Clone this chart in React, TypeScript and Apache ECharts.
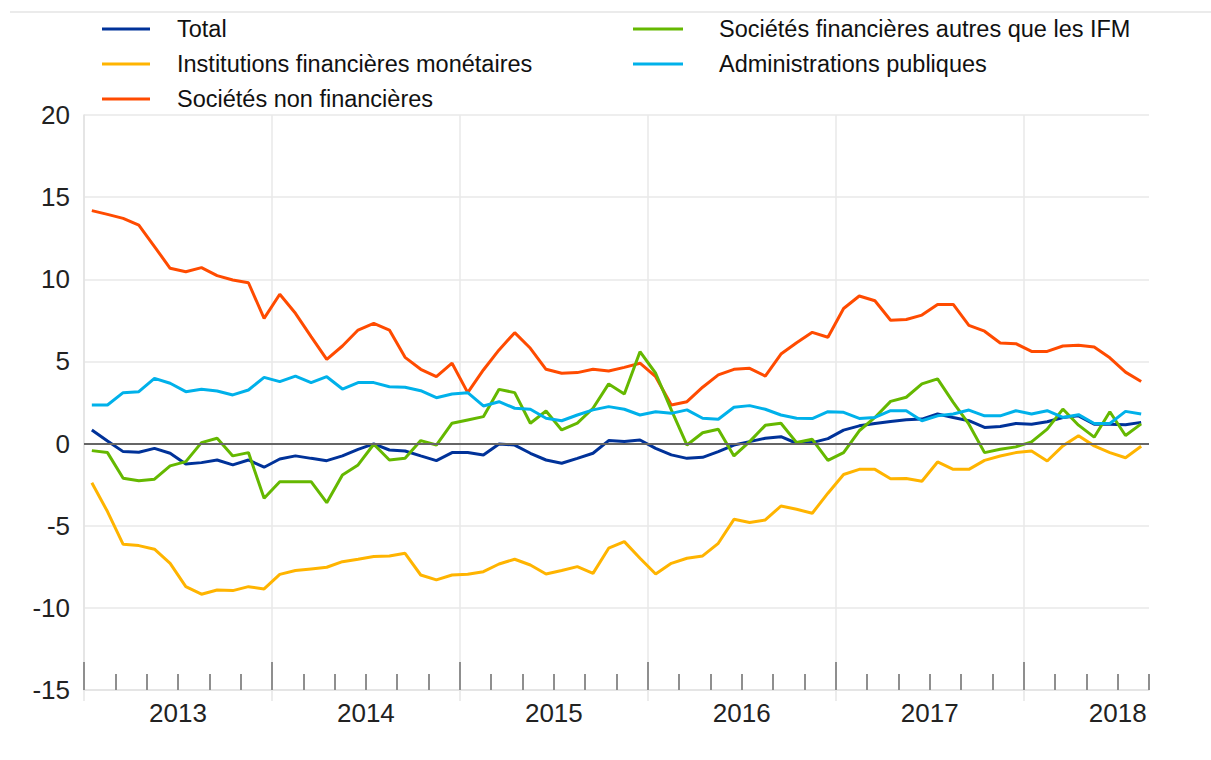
import React, { useEffect, useRef } from 'react';
import * as echarts from 'echarts';

// Monthly data, Jan 2013 – Aug 2018 (annual growth rates, %)
const years = ['2013', '2014', '2015', '2016', '2017', '2018'];

const nameTotal = 'Total';
const nameIfm = 'Institutions financières monétaires';
const nameSnf = 'Sociétés non financières';
const nameSfai = 'Sociétés financières autres que les IFM';
const nameAp = 'Administrations publiques';

const total = [
  0.83, 0.16, -0.49, -0.53, -0.29, -0.59, -1.24, -1.16, -1.0, -1.3, -1.0, -1.44,
  -0.94, -0.75, -0.9, -1.04, -0.75, -0.35, -0.02, -0.39, -0.45, -0.75, -1.04, -0.55,
  -0.55, -0.69, -0.02, -0.09, -0.59, -1.0, -1.2, -0.9, -0.59, 0.18, 0.12, 0.22,
  -0.29, -0.69, -0.9, -0.84, -0.49, -0.09, 0.12, 0.32, 0.42, 0.02, 0.06, 0.3,
  0.82, 1.08, 1.22, 1.35, 1.45, 1.49, 1.8, 1.59, 1.39, 0.98, 1.04, 1.22,
  1.18, 1.33, 1.59, 1.69, 1.18, 1.18, 1.14, 1.29,
];

const ifm = [
  -2.38, -4.14, -6.13, -6.21, -6.43, -7.29, -8.71, -9.17, -8.91, -8.95, -8.71, -8.85,
  -7.96, -7.73, -7.63, -7.53, -7.19, -7.04, -6.88, -6.84, -6.68, -8.0, -8.3, -8.0,
  -7.95, -7.8, -7.33, -7.04, -7.39, -7.94, -7.73, -7.49, -7.9, -6.37, -5.97, -6.98,
  -7.94, -7.29, -6.98, -6.84, -6.07, -4.61, -4.81, -4.65, -3.8, -4.0, -4.24, -3.02,
  -1.88, -1.57, -1.57, -2.14, -2.12, -2.29, -1.12, -1.57, -1.57, -1.02, -0.76, -0.55,
  -0.45, -1.06, -0.14, 0.47, -0.14, -0.55, -0.86, -0.16,
];

const snf = [
  14.18, 13.95, 13.71, 13.3, 11.99, 10.67, 10.46, 10.71, 10.22, 9.96, 9.79, 7.62,
  9.09, 7.93, 6.51, 5.13, 5.94, 6.91, 7.32, 6.91, 5.25, 4.52, 4.07, 4.89,
  3.1, 4.48, 5.7, 6.75, 5.8, 4.52, 4.28, 4.32, 4.52, 4.42, 4.64, 4.89,
  4.07, 2.35, 2.55, 3.43, 4.18, 4.52, 4.58, 4.11, 5.45, 6.14, 6.77, 6.47,
  8.22, 8.98, 8.69, 7.51, 7.55, 7.82, 8.47, 8.47, 7.2, 6.84, 6.12, 6.08,
  5.61, 5.61, 5.94, 5.98, 5.88, 5.22, 4.35, 3.78,
];

const sfai = [
  -0.43, -0.55, -2.11, -2.26, -2.17, -1.36, -1.1, 0.06, 0.32, -0.75, -0.55, -3.33,
  -2.32, -2.32, -2.32, -3.6, -1.91, -1.3, -0.04, -1.0, -0.9, 0.18, -0.09, 1.24,
  1.44, 1.64, 3.3, 3.1, 1.24, 1.98, 0.83, 1.24, 2.15, 3.63, 3.02, 5.59,
  4.28, 2.05, -0.09, 0.66, 0.87, -0.75, 0.12, 1.11, 1.24, 0.06, 0.26, -1.02,
  -0.55, 0.78, 1.59, 2.57, 2.82, 3.63, 3.94, 2.51, 1.18, -0.55, -0.35, -0.2,
  0.1, 0.88, 2.1, 1.12, 0.39, 1.94, 0.49, 1.2,
];

const ap = [
  2.35, 2.35, 3.1, 3.16, 3.97, 3.67, 3.16, 3.3, 3.2, 2.96, 3.26, 4.03,
  3.77, 4.11, 3.71, 4.07, 3.32, 3.71, 3.71, 3.46, 3.43, 3.22, 2.79, 3.02,
  3.1, 2.29, 2.55, 2.15, 2.09, 1.54, 1.39, 1.74, 2.05, 2.25, 2.09, 1.74,
  1.94, 1.84, 2.05, 1.54, 1.48, 2.21, 2.31, 2.09, 1.74, 1.54, 1.52, 1.94,
  1.9, 1.53, 1.59, 2.0, 2.0, 1.39, 1.69, 1.8, 2.04, 1.69, 1.69, 2.0,
  1.8, 2.0, 1.59, 1.76, 1.22, 1.22, 1.96, 1.8,
];

const yMin = -15;
const yMax = 20;
const yStep = 5;

const colors = {
  total: '#003299',
  ifm: '#ffb400',
  snf: '#ff4b00',
  sfai: '#65b800',
  ap: '#00b1ea',
};

const FONT = '"Liberation Sans", Arial, Helvetica, sans-serif';

export default function App() {
  const ref = useRef<HTMLDivElement>(null);

  useEffect(() => {
    document.body.style.margin = '0';
    if (!ref.current) return;
    const chart = echarts.init(ref.current, null, { renderer: 'svg' });

    const nMonths = total.length;
    const majorTicks: number[] = [];
    for (let k = 0; k < years.length; k++) {
      if (k * 12 < nMonths) majorTicks.push(k * 12);
    }
    const minorTicks: number[] = [];
    for (let m = 0; m <= nMonths; m += 2) minorTicks.push(m);
    const labelPos = years.map((_, k) => k * 12 + 6);

    const toPairs = (arr: number[]) => arr.map((v, i) => [i + 0.5, v]);

    const mkSeries = (name: string, data: number[], color: string, extra: any = {}) => ({
      name,
      type: 'line',
      data: toPairs(data),
      showSymbol: false,
      symbol: 'none',
      lineStyle: { color, width: 3 },
      itemStyle: { color },
      xAxisIndex: 0,
      yAxisIndex: 0,
      silent: true,
      ...extra,
    });

    const legendText = {
      fontSize: 23.5,
      color: '#111',
      fontFamily: FONT,
      lineHeight: 22,
    };

    const option: any = {
      animation: false,
      backgroundColor: '#ffffff',
      graphic: [
        {
          type: 'line',
          shape: { x1: 10, y1: 12, x2: 1211, y2: 12 },
          style: { stroke: '#e4e4e4', lineWidth: 1.5 },
          silent: true,
        },
      ],
      legend: [
        {
          data: [nameTotal, nameIfm, nameSnf],
          orient: 'vertical',
          left: 102,
          top: 17,
          padding: 0,
          icon: 'rect',
          itemWidth: 48,
          itemHeight: 3,
          itemGap: 11,
          selectedMode: false,
          textStyle: { ...legendText, padding: [0, 0, 0, 22] },
        },
        {
          data: [nameSfai, nameAp],
          orient: 'vertical',
          left: 633,
          top: 17,
          padding: 0,
          icon: 'rect',
          itemWidth: 50,
          itemHeight: 3,
          itemGap: 11,
          selectedMode: false,
          textStyle: { ...legendText, padding: [0, 0, 0, 31] },
        },
      ],
      grid: { left: 84, right: 62, top: 115, bottom: 70, containLabel: false },
      xAxis: [
        {
          type: 'value',
          min: 0,
          max: nMonths,
          position: 'bottom',
          offset: 0,
          axisLine: { show: true, onZero: false, lineStyle: { color: '#e2e2e2', width: 1.5 } },
          axisTick: {
            show: true,
            inside: true,
            length: 28,
            customValues: majorTicks,
            lineStyle: { color: '#8f8f8f', width: 2 },
          },
          axisLabel: {
            show: true,
            customValues: labelPos,
            formatter: (v: number) => years[Math.round((v - 6) / 12)] ?? '',
            fontSize: 26,
            color: '#222',
            fontFamily: FONT,
            margin: 10,
          },
          splitLine: { show: true, lineStyle: { color: '#e8e8e8', width: 1.5 } },
        },
        {
          type: 'value',
          min: 0,
          max: nMonths,
          position: 'bottom',
          offset: 0,
          axisLine: { show: false, onZero: false },
          axisTick: {
            show: true,
            inside: true,
            length: 16,
            customValues: minorTicks,
            lineStyle: { color: '#8f8f8f', width: 2 },
          },
          axisLabel: { show: false },
          splitLine: { show: false },
        },
        {
          type: 'value',
          min: 0,
          max: nMonths,
          position: 'bottom',
          offset: 0,
          axisLine: { show: false, onZero: false },
          axisTick: {
            show: true,
            inside: false,
            length: 11,
            customValues: majorTicks,
            lineStyle: { color: '#e6e6e6', width: 1.5 },
          },
          axisLabel: { show: false },
          splitLine: { show: false },
        },
      ],
      yAxis: {
        type: 'value',
        min: yMin,
        max: yMax,
        interval: yStep,
        axisLine: { show: true, lineStyle: { color: '#e2e2e2', width: 1.5 } },
        axisTick: { show: false },
        axisLabel: {
          fontSize: 26,
          color: '#222',
          fontFamily: FONT,
          margin: 14,
        },
        splitLine: { show: true, lineStyle: { color: '#e8e8e8', width: 1.5 } },
      },
      series: [
        mkSeries(nameTotal, total, colors.total, {
          markLine: {
            silent: true,
            symbol: 'none',
            label: { show: false },
            lineStyle: { color: '#666', width: 2, type: 'solid' },
            data: [{ yAxis: 0 }],
          },
        }),
        mkSeries(nameIfm, ifm, colors.ifm),
        mkSeries(nameSnf, snf, colors.snf),
        mkSeries(nameSfai, sfai, colors.sfai),
        mkSeries(nameAp, ap, colors.ap),
      ],
    };

    chart.setOption(option);
    return () => {
      chart.dispose();
    };
  }, []);

  return <div ref={ref} style={{ width: 1211, height: 760 }} />;
}
